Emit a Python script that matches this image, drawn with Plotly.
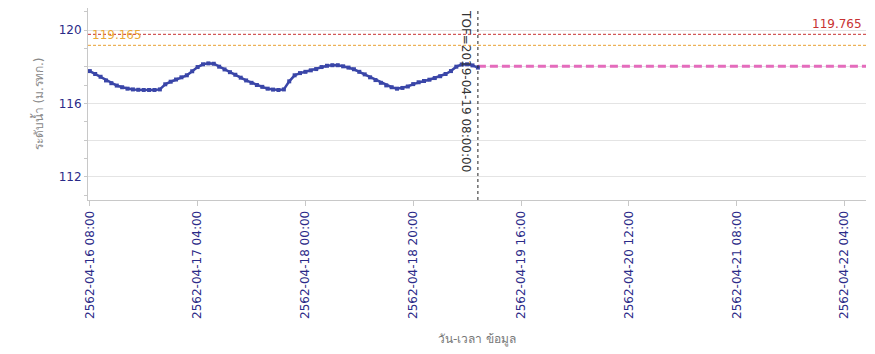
import pandas as pd
import plotly.graph_objects as go

# observed water level, hourly from 2019-04-16 08:00 (2562 in Thai year)
obs_start = "2019-04-16 08:00"
obs_level = [117.76, 117.60, 117.45, 117.25, 117.10, 116.97, 116.88, 116.80, 116.76, 116.74,
             116.73, 116.73, 116.73, 116.76, 117.04, 117.18, 117.30, 117.42, 117.53, 117.75,
             117.98, 118.13, 118.18, 118.16, 118.00, 117.85, 117.70, 117.56, 117.40, 117.25,
             117.12, 117.00, 116.90, 116.80, 116.75, 116.73, 116.76, 117.20, 117.53, 117.65,
             117.72, 117.80, 117.87, 117.98, 118.05, 118.08, 118.08, 118.02, 117.95, 117.86,
             117.72, 117.58, 117.42, 117.27, 117.12, 116.98, 116.88, 116.80, 116.84, 116.92,
             117.05, 117.15, 117.22, 117.29, 117.38, 117.48, 117.60, 117.76, 118.00, 118.12,
             118.13, 118.07, 117.95]

# forecast
fc_time = ["2019-04-19 08:00", "2019-04-22 08:00"]
fc_level = [118.02, 118.02]

tof = "2019-04-19 08:00"
red_level = 119.765
orange_level = 119.165

tick_vals = ["2019-04-16 08:00", "2019-04-17 04:00", "2019-04-18 00:00", "2019-04-18 20:00",
             "2019-04-19 16:00", "2019-04-20 12:00", "2019-04-21 08:00", "2019-04-22 04:00"]
tick_text = ["2562-04-16 08:00", "2562-04-17 04:00", "2562-04-18 00:00", "2562-04-18 20:00",
             "2562-04-19 16:00", "2562-04-20 12:00", "2562-04-21 08:00", "2562-04-22 04:00"]

obs_time = pd.date_range(obs_start, periods=len(obs_level), freq="h")
x_range = ["2019-04-16 07:40", "2019-04-22 08:00"]

fig = go.Figure()
fig.add_trace(go.Scatter(x=x_range, y=[red_level, red_level], mode="lines",
                         line=dict(color="#c83232", width=1, dash="3px,2px"), hoverinfo="skip"))
fig.add_trace(go.Scatter(x=x_range, y=[orange_level, orange_level], mode="lines",
                         line=dict(color="#e8a030", width=1, dash="3px,2px"), hoverinfo="skip"))
fig.add_trace(go.Scatter(x=fc_time, y=fc_level, mode="lines",
                         line=dict(color="#e46cbc", width=3, dash="8px,4px")))
fig.add_trace(go.Scatter(x=obs_time, y=obs_level, mode="lines+markers",
                         line=dict(color="#3a46a8", width=2.5),
                         marker=dict(symbol="square", size=4, color="#3a46a8")))

fig.add_shape(type="line", x0=tof, x1=tof, y0=0, y1=1, yref="paper",
              line=dict(color="#222", width=1, dash="dot"))
fig.add_annotation(x=tof, y=1, yref="paper", text="TOF=2019-04-19 08:00:00", textangle=90,
                   showarrow=False, xanchor="center", yanchor="top", xshift=-12, yshift=0,
                   font=dict(family="DejaVu Sans", size=12, color="#333"))
fig.add_annotation(x=x_range[1], y=red_level, text="119.765", showarrow=False,
                   xanchor="right", yanchor="bottom", xshift=-2, yshift=1,
                   font=dict(family="DejaVu Sans", size=12, color="#c83232"))
fig.add_annotation(x="2019-04-16 08:00", y=orange_level, text="119.165", showarrow=False,
                   xanchor="left", yanchor="bottom", xshift=0, yshift=1,
                   font=dict(family="DejaVu Sans", size=12, color="#eaa838"))

# page has an 8px body offset, margins compensate for it
fig.update_layout(
    width=875, height=354, showlegend=False,
    margin=dict(l=80, r=17, t=0, b=162),
    plot_bgcolor="white", paper_bgcolor="white",
    font=dict(family="DejaVu Sans", size=12, color="#2a2a88"),
    xaxis=dict(type="date", range=x_range, tickvals=tick_vals, ticktext=tick_text,
               tickangle=-90, ticks="outside", ticklen=5, tickcolor="#c8c8c8",
               showline=True, linecolor="#c8c8c8", showgrid=False, zeroline=False,
               automargin=False,
               tickfont=dict(size=12, color="#2a2a88"),
               title=dict(text="วัน-เวลา ข้อมูล", standoff=16,
                          font=dict(size=12, color="#777"))),
    yaxis=dict(range=[110.73, 121.2], tickvals=[112, 114, 116, 118, 120],
               ticktext=["112", "", "116", "", "120"],
               ticks="outside", ticklen=3, tickcolor="#c8c8c8",
               showline=True, linecolor="#c8c8c8", gridcolor="#e4e4e4", zeroline=False,
               automargin=False,
               minor=dict(dtick=1, tick0=111, ticks="outside", ticklen=3,
                          tickcolor="#c8c8c8", showgrid=False),
               tickfont=dict(size=12, color="#2a2a88"),
               title=dict(text="ระดับน้ำ (ม.รทก.)", standoff=12,
                          font=dict(size=12, color="#888"))),
)

fig.write_html("out.html")
